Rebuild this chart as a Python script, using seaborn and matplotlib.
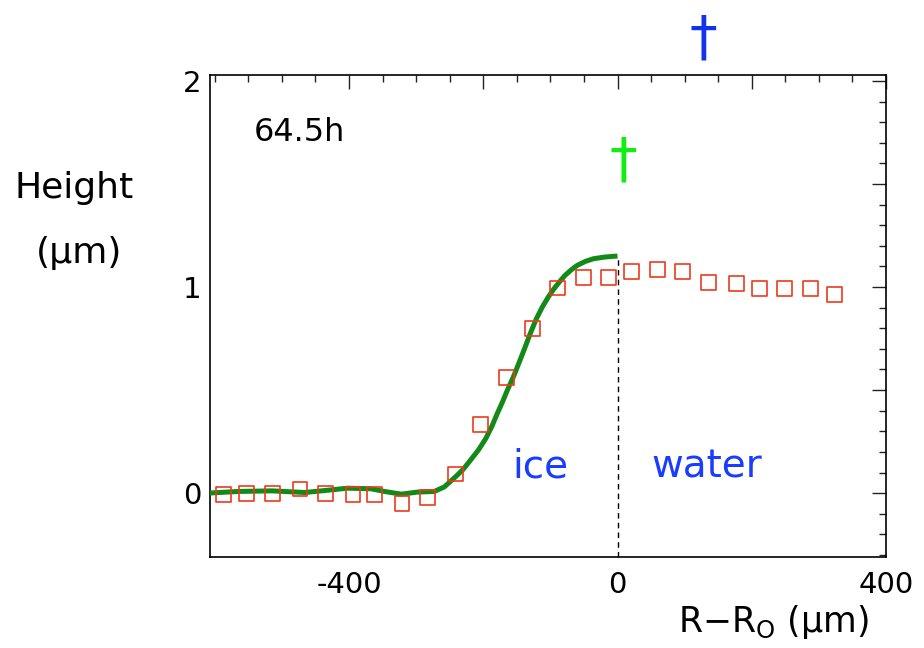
import numpy as np
import pandas as pd
import seaborn as sns
import matplotlib.pyplot as plt

# measured profile (squares) and model curve
r_pts = [-587, -552, -514, -473, -435, -394, -362, -321, -283, -241, -204, -165, -127,
         -90, -51, -13, 21, 59, 97, 136, 177, 212, 249, 287, 323]
h_pts = [-0.008, 0.0, 0.0, 0.02, 0.0, -0.008, -0.008, -0.05, -0.02, 0.093, 0.334, 0.56, 0.797,
         0.995, 1.045, 1.045, 1.076, 1.086, 1.076, 1.024, 1.015, 0.992, 0.992, 0.992, 0.963]

r_fit = [-610, -565, -515, -466, -441, -402, -367, -347, -322, -298, -273, -258, -241, -230,
         -219, -207, -196, -187, -179, -171, -164, -155, -147, -138, -130, -121, -112, -103,
         -95, -86, -78, -69, -60, -48, -36, -20, -6, 0]
h_fit = [0.0, 0.008, 0.011, 0.003, 0.011, 0.024, 0.021, 0.008, -0.005, 0.005, 0.008, 0.03, 0.08,
         0.115, 0.16, 0.21, 0.266, 0.325, 0.387, 0.445, 0.5, 0.565, 0.63, 0.705, 0.774, 0.845,
         0.903, 0.952, 0.99, 1.027, 1.057, 1.083, 1.105, 1.124, 1.137, 1.145, 1.149, 1.15]

x_ticks = [-400, -200, 0, 200, 400]
x_labels = ['-400', '', '0', '', '400']
y_ticks = [0, 0.5, 1, 1.5, 2]
y_labels = ['0', '', '1', '', '2']

sns.set_style('white')
plt.rcParams['font.family'] = ['DejaVu Sans']
plt.rcParams['mathtext.default'] = 'regular'
plt.rcParams['text.color'] = 'black'
plt.rcParams['xtick.color'] = 'black'
plt.rcParams['ytick.color'] = 'black'

fig = plt.figure(figsize=(9.24, 6.48), dpi=100)
ax = fig.add_axes([0.2273, 0.1404, 0.9589 - 0.2273, 0.8847 - 0.1404])

sns.lineplot(x=r_fit, y=h_fit, ax=ax, color='#138a17', linewidth=3.6, sort=False,
             solid_capstyle='butt', zorder=3)
sns.scatterplot(x=r_pts, y=h_pts, ax=ax, marker='s', s=115, facecolors='none',
                edgecolor='#ec3a1c', linewidth=1.2, zorder=4)

ax.plot([0, 0], [-0.31, 1.15], color='black', linestyle=(0, (4, 3)), linewidth=1.0, zorder=2)

ax.set_xlim(-607, 400)
ax.set_ylim(-0.31, 2.03)
ax.set_xticks(x_ticks)
ax.set_xticklabels(x_labels)
ax.set_yticks(y_ticks)
ax.set_yticklabels(y_labels)
ax.set_xticks(np.arange(-600, 401, 50), minor=True)
ax.set_yticks(np.arange(-0.3, 2.01, 0.1), minor=True)
ax.tick_params(which='both', direction='in', top=True, right=True, color='#222222',
               width=1.0, labelsize=21, labelcolor='black')
ax.tick_params(axis='x', pad=10)
ax.tick_params(axis='y', pad=6)
ax.tick_params(which='major', length=10)
ax.tick_params(which='minor', length=5)
for s in ax.spines.values():
    s.set_color('black')
    s.set_linewidth(1.2)
ax.set_xlabel('')
ax.set_ylabel('')

ax.text(-542, 1.75, '64.5h', fontsize=23, color='black', va='center', ha='left')
ax.text(-157, 0.075, 'ice', fontsize=28, color='#1a3cff', ha='left', va='baseline')
ax.text(51, 0.075, 'water', fontsize=28, color='#1a3cff', ha='left', va='baseline')
ax.text(9, 1.61, '\u2020', fontsize=40, color='#11ee11', ha='center', va='center')
ax.text(128, 2.2, '\u2020', fontsize=40, color='#1133ee', ha='center', va='center',
        clip_on=False)

fig.text(74 / 924, 1 - 188 / 648, 'Height', fontsize=26, ha='center', va='center')
fig.text(79 / 924, 1 - 253 / 648, '(\u03bcm)', fontsize=26, ha='center', va='center')
fig.text(678 / 924, 1 - 622 / 648, 'R\u2212R$_{O}$ (\u03bcm)', fontsize=25, ha='left', va='center')

fig.savefig('out.png', dpi=100)
